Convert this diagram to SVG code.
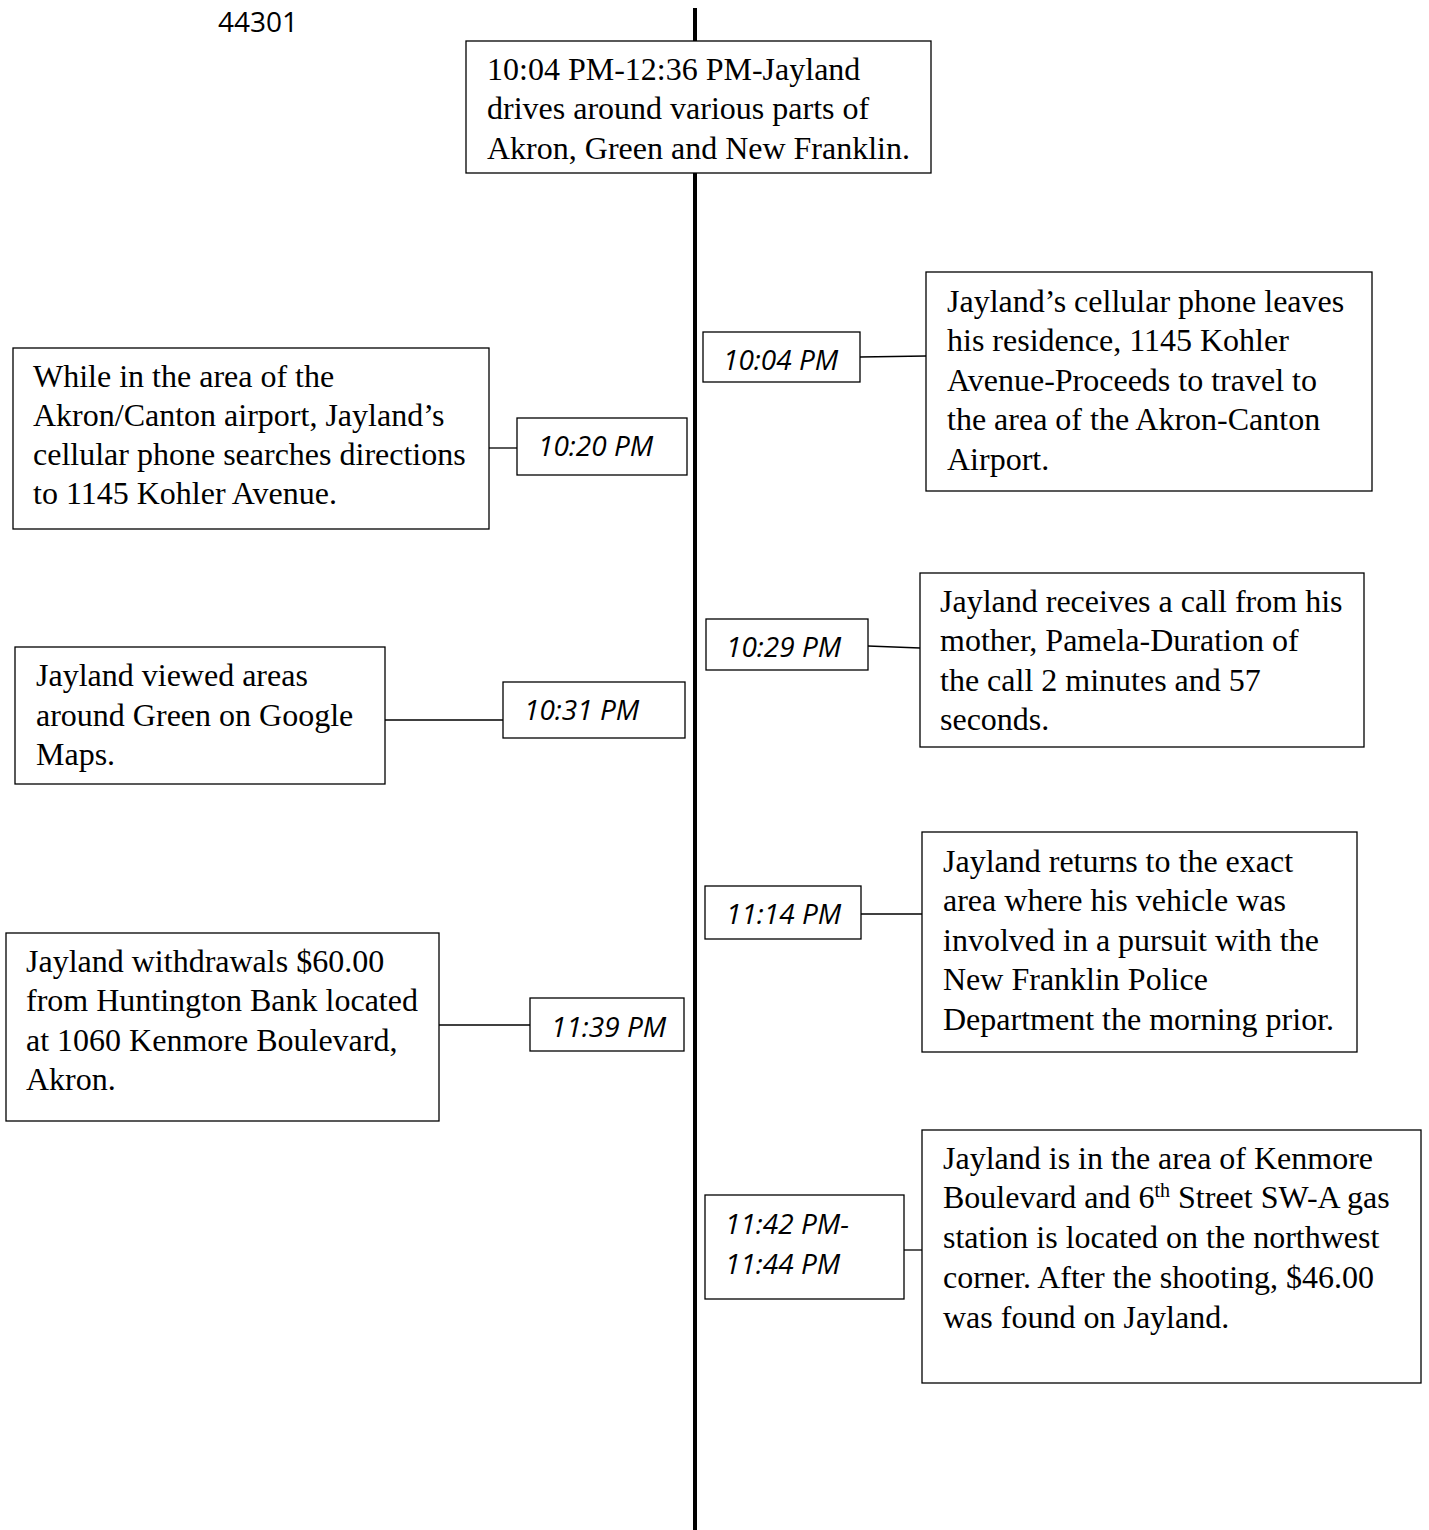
<svg xmlns="http://www.w3.org/2000/svg" width="1429" height="1530" viewBox="0 0 1429 1530">
<style>
.box{fill:#fff;stroke:#000;stroke-width:1.3}
.t{font-family:"Liberation Serif","Times New Roman",serif;font-size:32px;fill:#000}
.tm{font-family:"Open Sans","Liberation Sans",sans-serif;font-style:italic;font-size:28px;fill:#000}
.c{stroke:#000;stroke-width:1.3;fill:none}
.axis{stroke:#000;stroke-width:4;fill:none}
</style>
<rect width="1429" height="1530" fill="#fff"/>
<text x="218" y="32" font-family="'Open Sans','Liberation Sans',sans-serif" font-size="28">44301</text>
<line class="axis" x1="695" y1="8" x2="695" y2="1530"/>
<g id="connectors">
<line class="c" x1="489" y1="448" x2="517" y2="448"/>
<line class="c" x1="860" y1="357" x2="926" y2="356"/>
<line class="c" x1="868" y1="646" x2="920" y2="648"/>
<line class="c" x1="385" y1="720" x2="503" y2="720"/>
<line class="c" x1="861" y1="914" x2="922" y2="914"/>
<line class="c" x1="439" y1="1025" x2="530" y2="1025"/>
<line class="c" x1="904" y1="1250" x2="922" y2="1250"/>
</g>
<g id="top">
<rect class="box" x="466" y="41" width="465" height="132"/>
<text class="t" x="487" y="80">10:04 PM-12:36 PM-Jayland</text>
<text class="t" x="487" y="119">drives around various parts of</text>
<text class="t" x="487" y="159">Akron, Green and New Franklin.</text>
</g>
<g id="n1020">
<rect class="box" x="13" y="348" width="476" height="181"/>
<text class="t" x="33" y="387">While in the area of the</text>
<text class="t" x="33" y="426">Akron/Canton airport, Jayland’s</text>
<text class="t" x="33" y="465">cellular phone searches directions</text>
<text class="t" x="33" y="504">to 1145 Kohler Avenue.</text>
</g>
<g id="t1020">
<rect class="box" x="517" y="418" width="170" height="57"/>
<text class="tm" x="538" y="456">10:20 PM</text>
</g>
<g id="t1004">
<rect class="box" x="703" y="332" width="157" height="50"/>
<text class="tm" x="723" y="370">10:04 PM</text>
</g>
<g id="n1004">
<rect class="box" x="926" y="272" width="446" height="219"/>
<text class="t" x="947" y="312">Jayland’s cellular phone leaves</text>
<text class="t" x="947" y="351">his residence, 1145 Kohler</text>
<text class="t" x="947" y="391">Avenue-Proceeds to travel to</text>
<text class="t" x="947" y="430">the area of the Akron-Canton</text>
<text class="t" x="947" y="470">Airport.</text>
</g>
<g id="t1029">
<rect class="box" x="706" y="619" width="162" height="51"/>
<text class="tm" x="726" y="657">10:29 PM</text>
</g>
<g id="n1029">
<rect class="box" x="920" y="573" width="444" height="174"/>
<text class="t" x="940" y="612">Jayland receives a call from his</text>
<text class="t" x="940" y="651">mother, Pamela-Duration of</text>
<text class="t" x="940" y="691">the call 2 minutes and 57</text>
<text class="t" x="940" y="730">seconds.</text>
</g>
<g id="n1031">
<rect class="box" x="15" y="647" width="370" height="137"/>
<text class="t" x="36" y="686">Jayland viewed areas</text>
<text class="t" x="36" y="726">around Green on Google</text>
<text class="t" x="36" y="765">Maps.</text>
</g>
<g id="t1031">
<rect class="box" x="503" y="682" width="182" height="56"/>
<text class="tm" x="524" y="720">10:31 PM</text>
</g>
<g id="t1114">
<rect class="box" x="705" y="886" width="156" height="53"/>
<text class="tm" x="726" y="924">11:14 PM</text>
</g>
<g id="n1114">
<rect class="box" x="922" y="832" width="435" height="220"/>
<text class="t" x="943" y="872">Jayland returns to the exact</text>
<text class="t" x="943" y="911">area where his vehicle was</text>
<text class="t" x="943" y="951">involved in a pursuit with the</text>
<text class="t" x="943" y="990">New Franklin Police</text>
<text class="t" x="943" y="1030">Department the morning prior.</text>
</g>
<g id="n1139">
<rect class="box" x="6" y="933" width="433" height="188"/>
<text class="t" x="26" y="972">Jayland withdrawals $60.00</text>
<text class="t" x="26" y="1011">from Huntington Bank located</text>
<text class="t" x="26" y="1051">at 1060 Kenmore Boulevard,</text>
<text class="t" x="26" y="1090">Akron.</text>
</g>
<g id="t1139">
<rect class="box" x="530" y="998" width="154" height="53"/>
<text class="tm" x="551" y="1037">11:39 PM</text>
</g>
<g id="t1142">
<rect class="box" x="705" y="1195" width="199" height="104"/>
<text class="tm" x="725" y="1234">11:42 PM-</text>
<text class="tm" x="725" y="1274">11:44 PM</text>
</g>
<g id="n1142">
<rect class="box" x="922" y="1130" width="499" height="253"/>
<text class="t" x="943" y="1169">Jayland is in the area of Kenmore</text>
<text class="t" x="943" y="1208">Boulevard and 6<tspan font-size="20" dy="-11">th</tspan><tspan dy="11"> Street SW-A gas</tspan></text>
<text class="t" x="943" y="1248">station is located on the northwest</text>
<text class="t" x="943" y="1288">corner. After the shooting, $46.00</text>
<text class="t" x="943" y="1328">was found on Jayland.</text>
</g>
</svg>
